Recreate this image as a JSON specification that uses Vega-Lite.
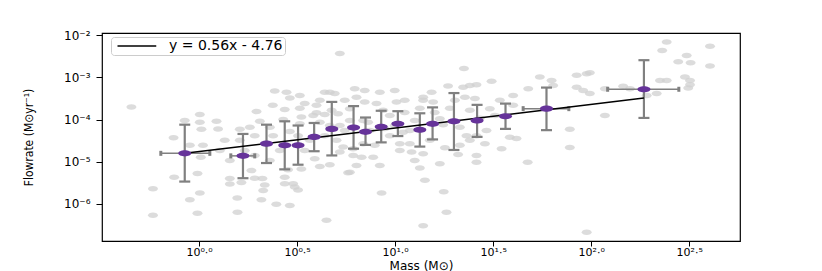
{
  "$schema": "https://vega.github.io/schema/vega-lite/v6.json",
  "autosize": {"type": "none"},
  "width": 638,
  "height": 208,
  "padding": {"left": 102, "top": 33, "right": 82, "bottom": 30},
  "background": "white",
  "config": {"view": {"stroke": "#000", "strokeWidth": 1.2}},
  "datasets": {
    "scatter": [
      {"m":-0.345,"f":-3.70},{"m":-0.235,"f":-5.64},{"m":-0.235,"f":-6.27},{"m":-0.127,"f":-5.37},{"m":-0.13,"f":-4.43},
      {"m":-0.073,"f":-4.02},{"m":-0.047,"f":-4.61},{"m":-0.047,"f":-5.90},{"m":-0.008,"f":-6.22},{"m":0.004,"f":-5.74},
      {"m":-0.008,"f":-5.28},{"m":0.009,"f":-4.89},{"m":0.020,"f":-4.61},{"m":0.004,"f":-3.88},{"m":0.089,"f":-4.04},
      {"m":0.097,"f":-4.22},{"m":0.012,"f":-4.23},{"m":0.004,"f":-4.06},{"m":0.157,"f":-5.40},{"m":0.157,"f":-5.53},
      {"m":0.216,"f":-5.49},{"m":0.195,"f":-5.86},{"m":0.196,"f":-6.20},{"m":0.267,"f":-5.21},{"m":0.284,"f":-5.39},
      {"m":0.323,"f":-5.40},{"m":0.335,"f":-5.55},{"m":0.327,"f":-5.68},{"m":0.318,"f":-5.90},{"m":0.394,"f":-6.01},
      {"m":0.463,"f":-6.04},{"m":0.208,"f":-4.23},{"m":0.259,"f":-4.18},{"m":0.293,"f":-3.81},{"m":0.310,"f":-4.04},
      {"m":0.361,"f":-4.18},{"m":0.378,"f":-4.38},{"m":0.376,"f":-3.66},{"m":0.386,"f":-3.32},{"m":0.446,"f":-3.35},
      {"m":0.463,"f":-3.49},{"m":0.437,"f":-3.76},{"m":0.429,"f":-4.00},{"m":0.522,"f":-3.94},{"m":0.514,"f":-4.10},
      {"m":0.463,"f":-4.28},{"m":0.505,"f":-4.38},{"m":0.514,"f":-3.73},{"m":0.539,"f":-3.62},{"m":0.599,"f":-3.66},
      {"m":0.582,"f":-3.90},{"m":0.616,"f":-4.06},{"m":0.641,"f":-3.88},{"m":0.599,"f":-3.84},{"m":0.454,"f":-5.19},
      {"m":0.480,"f":-5.52},{"m":0.505,"f":-5.67},{"m":0.437,"f":-5.52},{"m":0.522,"f":-5.17},{"m":0.437,"f":-5.37},
      {"m":0.488,"f":-5.60},{"m":0.590,"f":-4.93},{"m":0.616,"f":-5.11},{"m":0.667,"f":-5.07},{"m":0.718,"f":-4.77},
      {"m":0.769,"f":-5.25},{"m":0.650,"f":-6.39},{"m":0.641,"f":-3.35},{"m":0.692,"f":-3.38},{"m":0.718,"f":-2.43},
      {"m":0.667,"f":-3.35},{"m":0.794,"f":-3.27},{"m":0.803,"f":-3.47},{"m":0.769,"f":-3.74},{"m":0.845,"f":-3.58},
      {"m":0.905,"f":-3.62},{"m":0.939,"f":-3.78},{"m":1.007,"f":-3.58},{"m":0.676,"f":-3.78},{"m":0.709,"f":-3.86},
      {"m":0.769,"f":-4.02},{"m":0.837,"f":-4.02},{"m":0.862,"f":-4.06},{"m":0.701,"f":-4.49},{"m":0.735,"f":-4.65},
      {"m":0.786,"f":-4.69},{"m":0.837,"f":-4.57},{"m":0.896,"f":-4.61},{"m":0.786,"f":-4.85},{"m":0.829,"f":-4.89},
      {"m":0.888,"f":-4.89},{"m":0.922,"f":-5.09},{"m":0.931,"f":-5.74},{"m":0.803,"f":-5.09},{"m":0.760,"f":-5.26},
      {"m":1.126,"f":-5.15},{"m":1.152,"f":-5.44},{"m":1.143,"f":-6.52},{"m":0.998,"f":-4.14},{"m":1.041,"f":-4.30},
      {"m":1.024,"f":-4.57},{"m":1.024,"f":-4.73},{"m":1.075,"f":-4.57},{"m":1.084,"f":-4.77},{"m":1.143,"f":-4.81},
      {"m":1.228,"f":-3.98},{"m":1.245,"f":-4.12},{"m":1.330,"f":-4.18},{"m":1.364,"f":-4.38},{"m":1.415,"f":-4.38},
      {"m":1.458,"f":-4.57},{"m":1.466,"f":-4.26},{"m":1.585,"f":-4.42},{"m":1.619,"f":-4.45},{"m":1.543,"f":-4.69},
      {"m":1.415,"f":-4.85},{"m":1.415,"f":-5.01},{"m":1.321,"f":-4.83},{"m":1.228,"f":-5.05},{"m":1.248,"f":-5.71},
      {"m":1.262,"f":-6.20},{"m":1.254,"f":-4.67},{"m":1.351,"f":-2.79},{"m":1.492,"f":-3.09},{"m":1.415,"f":-3.17},
      {"m":1.347,"f":-3.23},{"m":1.270,"f":-3.20},{"m":1.186,"f":-3.35},{"m":1.143,"f":-3.47},{"m":1.143,"f":-3.54},
      {"m":1.194,"f":-3.58},{"m":1.049,"f":-3.54},{"m":1.679,"f":-3.27},{"m":1.738,"f":-2.99},{"m":1.798,"f":-3.07},
      {"m":1.806,"f":-3.19},{"m":1.926,"f":-2.95},{"m":1.977,"f":-2.91},{"m":1.993,"f":-2.89},{"m":1.926,"f":-3.23},
      {"m":1.959,"f":-3.31},{"m":1.993,"f":-3.38},{"m":2.070,"f":-3.90},{"m":2.070,"f":-3.27},{"m":1.891,"f":-4.23},
      {"m":1.891,"f":-4.66},{"m":1.676,"f":-5.01},{"m":1.602,"f":-3.43},{"m":1.602,"f":-3.66},{"m":1.483,"f":-3.74},
      {"m":1.407,"f":-3.50},{"m":1.356,"f":-3.47},{"m":2.444,"f":-2.63},{"m":2.478,"f":-2.99},{"m":2.351,"f":-3.07},
      {"m":2.385,"f":-3.07},{"m":2.334,"f":-3.38},{"m":2.283,"f":-3.43},{"m":2.163,"f":-3.21},{"m":2.385,"f":-2.16},
      {"m":2.362,"f":-2.36},{"m":2.606,"f":-2.26},{"m":2.487,"f":-2.48},{"m":2.507,"f":-2.65},{"m":2.606,"f":-2.73},
      {"m":2.504,"f":-3.07},{"m":2.504,"f":-3.17},{"m":2.495,"f":-3.25},{"m":1.977,"f":-6.67},{"m":1.381,"f":-3.19},
      {"m":2.198,"f":-3.27},
      {"m":1.049,"f":-3.83},{"m":1.100,"f":-4.02},{"m":1.126,"f":-3.73},{"m":1.075,"f":-4.26},{"m":1.177,"f":-4.49},
      {"m":1.202,"f":-3.83},{"m":1.279,"f":-3.73},{"m":1.305,"f":-3.54},{"m":1.381,"f":-3.78},{"m":1.432,"f":-3.97},
      {"m":1.509,"f":-3.90},{"m":1.534,"f":-3.54},{"m":1.330,"f":-4.61},{"m":1.381,"f":-4.49},{"m":1.100,"f":-4.97},
      {"m":0.973,"f":-4.38},{"m":0.947,"f":-4.21},{"m":0.871,"f":-4.26},{"m":0.743,"f":-4.26},{"m":0.641,"f":-4.38},
      {"m":0.565,"f":-4.49},{"m":0.539,"f":-4.73},{"m":0.412,"f":-4.73},{"m":0.361,"f":-4.97},{"m":0.284,"f":-4.85},
      {"m":0.233,"f":-4.73},{"m":0.157,"f":-4.97},{"m":0.106,"f":-4.73},{"m":0.131,"f":-4.49},{"m":0.667,"f":-4.14},
      {"m":0.718,"f":-4.14},{"m":0.616,"f":-3.54},{"m":0.514,"f":-3.43},{"m":0.743,"f":-3.54},{"m":0.845,"f":-3.31},
      {"m":0.922,"f":-3.35},{"m":0.973,"f":-3.90},{"m":0.998,"f":-3.31},{"m":0.284,"f":-4.38},{"m":0.208,"f":-4.49}
    ],
    "bins": [
      {"m":-0.073,"f":-4.80,"lo":-5.47,"hi":-4.12},
      {"m":0.224,"f":-4.86,"lo":-5.39,"hi":-4.34},
      {"m":0.344,"f":-4.57,"lo":-5.03,"hi":-4.12},
      {"m":0.437,"f":-4.61,"lo":-5.18,"hi":-4.04},
      {"m":0.505,"f":-4.61,"lo":-5.07,"hi":-4.14},
      {"m":0.587,"f":-4.41,"lo":-4.75,"hi":-4.08},
      {"m":0.677,"f":-4.22,"lo":-4.85,"hi":-3.58},
      {"m":0.788,"f":-4.19,"lo":-4.69,"hi":-3.68},
      {"m":0.849,"f":-4.29,"lo":-4.60,"hi":-3.95},
      {"m":0.929,"f":-4.17,"lo":-4.54,"hi":-3.79},
      {"m":1.014,"f":-4.10,"lo":-4.39,"hi":-3.80},
      {"m":1.126,"f":-4.24,"lo":-4.64,"hi":-3.85},
      {"m":1.191,"f":-4.10,"lo":-4.47,"hi":-3.71},
      {"m":1.300,"f":-4.04,"lo":-4.72,"hi":-3.37},
      {"m":1.418,"f":-4.02,"lo":-4.41,"hi":-3.65},
      {"m":1.563,"f":-3.92,"lo":-4.22,"hi":-3.62},
      {"m":1.772,"f":-3.74,"lo":-4.25,"hi":-3.24},
      {"m":2.269,"f":-3.28,"lo":-3.96,"hi":-2.59}
    ],
    "xerr": [
      {"f":-4.80,"mlo":-0.195,"mhi":0.055},
      {"f":-4.86,"mlo":0.162,"mhi":0.284},
      {"f":-3.74,"mlo":1.653,"mhi":1.886},
      {"f":-3.28,"mlo":2.084,"mhi":2.447}
    ],
    "fit": [
      {"m":-0.073,"f":-4.80,"label":"y = 0.56x - 4.76"},
      {"m":2.269,"f":-3.49,"label":"y = 0.56x - 4.76"}
    ]
  },
  "layer": [
    {
      "data": {"name": "scatter"},
      "mark": {"type": "point", "shape": "M-1,0A1,0.55,0,1,1,1,0A1,0.55,0,1,1,-1,0Z", "filled": true, "size": 100, "color": "#d0d0d0", "opacity": 0.75, "strokeWidth": 0},
      "encoding": {
        "x": {"field": "m", "type": "quantitative", "scale": {"domain": [-0.495, 2.759], "nice": false, "zero": false},
          "axis": {"values": [0, 0.5, 1, 1.5, 2, 2.5], "labelExpr": "datum.value==0?'10⁰·⁰':datum.value==0.5?'10⁰·⁵':datum.value==1?'10¹·⁰':datum.value==1.5?'10¹·⁵':datum.value==2?'10²·⁰':'10²·⁵'", "title": "Mass (M⊙)", "grid": false, "domain": false, "tickColor": "#000", "tickSize": 5, "labelFont": "DejaVu Sans", "labelFontSize": 11, "labelColor": "#000", "labelPadding": 0, "titleFont": "DejaVu Sans", "titleFontSize": 12, "titleFontWeight": "normal", "titleColor": "#000", "titleY": 28, "titleBaseline": "alphabetic"}},
        "y": {"field": "f", "type": "quantitative", "scale": {"domain": [-6.88, -1.945], "nice": false, "zero": false},
          "axis": {"values": [-6, -5, -4, -3, -2], "labelExpr": "datum.value==-2?'10⁻²':datum.value==-3?'10⁻³':datum.value==-4?'10⁻⁴':datum.value==-5?'10⁻⁵':'10⁻⁶'", "title": "Flowrate (M⊙yr⁻¹)", "grid": false, "domain": false, "tickColor": "#000", "tickSize": 6, "labelFont": "DejaVu Sans", "labelFontSize": 12, "labelColor": "#000", "labelPadding": 6, "titleFont": "DejaVu Sans Condensed", "titleFontSize": 12, "titleFontWeight": "normal", "titleColor": "#000", "titleX": -74, "titleY": 104, "titleAngle": -90, "titleAlign": "center", "titleBaseline": "middle"}}
      }
    },
    {
      "data": {"name": "bins"},
      "mark": {"type": "rule", "color": "#808080", "strokeWidth": 2.2},
      "encoding": {
        "x": {"field": "m", "type": "quantitative", "scale": {"domain": [-0.495, 2.759], "nice": false, "zero": false}, "axis": {"title": "Mass (M⊙)"}},
        "y": {"field": "lo", "type": "quantitative", "scale": {"domain": [-6.88, -1.945], "nice": false, "zero": false}, "axis": {"title": "Flowrate (M⊙yr⁻¹)"}},
        "y2": {"field": "hi"}
      }
    },
    {
      "data": {"name": "bins"},
      "mark": {"type": "tick", "orient": "horizontal", "size": 11, "thickness": 2.2, "color": "#808080", "opacity": 1},
      "encoding": {
        "x": {"field": "m", "type": "quantitative", "scale": {"domain": [-0.495, 2.759], "nice": false, "zero": false}, "axis": {"title": "Mass (M⊙)"}},
        "y": {"field": "hi", "type": "quantitative", "scale": {"domain": [-6.88, -1.945], "nice": false, "zero": false}, "axis": {"title": "Flowrate (M⊙yr⁻¹)"}}
      }
    },
    {
      "data": {"name": "bins"},
      "mark": {"type": "tick", "orient": "horizontal", "size": 11, "thickness": 2.2, "color": "#808080", "opacity": 1},
      "encoding": {
        "x": {"field": "m", "type": "quantitative", "scale": {"domain": [-0.495, 2.759], "nice": false, "zero": false}, "axis": {"title": "Mass (M⊙)"}},
        "y": {"field": "lo", "type": "quantitative", "scale": {"domain": [-6.88, -1.945], "nice": false, "zero": false}, "axis": {"title": "Flowrate (M⊙yr⁻¹)"}}
      }
    },
    {
      "data": {"name": "xerr"},
      "mark": {"type": "rule", "color": "#808080", "strokeWidth": 1.5},
      "encoding": {
        "x": {"field": "mlo", "type": "quantitative", "scale": {"domain": [-0.495, 2.759], "nice": false, "zero": false}, "axis": {"title": "Mass (M⊙)"}},
        "x2": {"field": "mhi"},
        "y": {"field": "f", "type": "quantitative", "scale": {"domain": [-6.88, -1.945], "nice": false, "zero": false}, "axis": {"title": "Flowrate (M⊙yr⁻¹)"}}
      }
    },
    {
      "data": {"name": "xerr"},
      "mark": {"type": "tick", "orient": "vertical", "size": 5, "thickness": 3, "color": "#808080", "opacity": 1},
      "encoding": {
        "x": {"field": "mlo", "type": "quantitative", "scale": {"domain": [-0.495, 2.759], "nice": false, "zero": false}, "axis": {"title": "Mass (M⊙)"}},
        "y": {"field": "f", "type": "quantitative", "scale": {"domain": [-6.88, -1.945], "nice": false, "zero": false}, "axis": {"title": "Flowrate (M⊙yr⁻¹)"}}
      }
    },
    {
      "data": {"name": "xerr"},
      "mark": {"type": "tick", "orient": "vertical", "size": 5, "thickness": 3, "color": "#808080", "opacity": 1},
      "encoding": {
        "x": {"field": "mhi", "type": "quantitative", "scale": {"domain": [-0.495, 2.759], "nice": false, "zero": false}, "axis": {"title": "Mass (M⊙)"}},
        "y": {"field": "f", "type": "quantitative", "scale": {"domain": [-6.88, -1.945], "nice": false, "zero": false}, "axis": {"title": "Flowrate (M⊙yr⁻¹)"}}
      }
    },
    {
      "data": {"name": "fit"},
      "mark": {"type": "line", "strokeWidth": 1.5},
      "encoding": {
        "x": {"field": "m", "type": "quantitative", "scale": {"domain": [-0.495, 2.759], "nice": false, "zero": false}, "axis": {"title": "Mass (M⊙)"}},
        "y": {"field": "f", "type": "quantitative", "scale": {"domain": [-6.88, -1.945], "nice": false, "zero": false}, "axis": {"title": "Flowrate (M⊙yr⁻¹)"}},
        "color": {"field": "label", "type": "nominal", "scale": {"range": ["#000000"]},
          "legend": {"orient": "none", "legendX": 9, "legendY": 4, "title": null, "symbolType": "M-1,0H14.5", "symbolSize": 25, "symbolStrokeWidth": 1.5, "labelFont": "DejaVu Sans", "labelFontSize": 14, "labelColor": "#000", "labelOffset": 42, "padding": 2, "strokeColor": "#cccccc", "fillColor": "white", "cornerRadius": 3}}
      }
    },
    {
      "data": {"name": "bins"},
      "mark": {"type": "point", "shape": "M-1,0A1,0.47,0,1,1,1,0A1,0.47,0,1,1,-1,0Z", "filled": true, "size": 169, "color": "#66339a", "opacity": 1, "strokeWidth": 0},
      "encoding": {
        "x": {"field": "m", "type": "quantitative", "scale": {"domain": [-0.495, 2.759], "nice": false, "zero": false}, "axis": {"title": "Mass (M⊙)"}},
        "y": {"field": "f", "type": "quantitative", "scale": {"domain": [-6.88, -1.945], "nice": false, "zero": false}, "axis": {"title": "Flowrate (M⊙yr⁻¹)"}}
      }
    }
  ]
}
